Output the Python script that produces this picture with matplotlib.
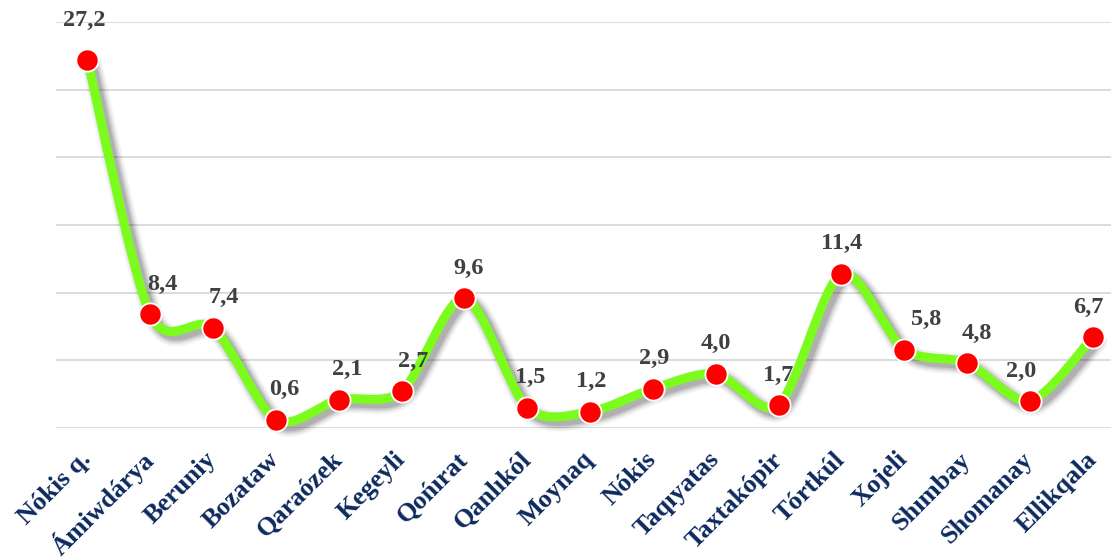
import numpy as np
import matplotlib
matplotlib.use('Agg')
import matplotlib.pyplot as plt
from matplotlib.path import Path
from matplotlib.patches import PathPatch
import matplotlib.patheffects as pe

# Data
districts = ['Nókis q.', 'Ámiwdárya', 'Beruniy', 'Bozataw', 'Qaraózek', 'Kegeyli',
             'Qońırat', 'Qanlıkól', 'Moynaq', 'Nókis', 'Taqıyatas', 'Taxtakópir',
             'Tórtkúl', 'Xojeli', 'Shımbay', 'Shomanay', 'Ellikqala']
values = [27.2, 8.4, 7.4, 0.6, 2.1, 2.7, 9.6, 1.5, 1.2, 2.9, 4.0, 1.7, 11.4, 5.8, 4.8, 2.0, 6.7]

x = np.arange(len(values))
y = np.array(values)

fig = plt.figure(figsize=(11.11, 5.6), dpi=100)
ax = fig.add_axes([56 / 1111, 132 / 560, 1 - 56 / 1111, 406 / 560])
ax.set_xlim(-0.5, 16.29)
ax.set_ylim(0, 30)

# grid
for g in range(0, 31, 5):
    ax.axhline(g, color='#d9d9d9', lw=1.3, zorder=0)

# smooth line (Excel-like bezier through the points)
verts = [(x[0], y[0])]
codes = [Path.MOVETO]
n = len(x)
for i in range(n - 1):
    p0 = np.array([x[max(i - 1, 0)], y[max(i - 1, 0)]])
    p1 = np.array([x[i], y[i]])
    p2 = np.array([x[i + 1], y[i + 1]])
    p3 = np.array([x[min(i + 2, n - 1)], y[min(i + 2, n - 1)]])
    c1 = p1 + (p2 - p0) / 7
    c2 = p2 - (p3 - p1) / 7
    verts += [tuple(c1), tuple(c2), tuple(p2)]
    codes += [Path.CURVE4] * 3

shadow = [pe.SimpleLineShadow(offset=(3, -3), shadow_color='black', alpha=a, linewidth=w)
          for a, w in [(0.05, 15), (0.07, 12), (0.1, 9.5), (0.12, 7)]]
curve = PathPatch(Path(verts, codes), fill=False, edgecolor='#7cfc1c', lw=6.5,
                  capstyle='round', joinstyle='round', zorder=2,
                  path_effects=shadow + [pe.Normal()])
curve.set_clip_on(False)
ax.add_patch(curve)

ax.plot(x, y, 'o', ms=16, mfc='#ff0000', mec='white', mew=1.3, zorder=3, clip_on=False)

# value labels
dx = [-2, 9, 8, 6, 6, 8, 3, 2, 1, 1, 0, 0, 0, 16, 7, -6, -3]
for xi, yi, d in zip(x, y, dx):
    ax.annotate(f'{yi:.1f}'.replace('.', ','), (xi, yi), xytext=(d, 14 if xi != 0 else 21),
                textcoords='offset points', ha='center', va='bottom',
                fontsize=17.5, fontweight='bold', family='Liberation Serif', color='#404040')

ax.set_xticks(x)
ax.set_xticklabels(districts, rotation=45, ha='right', va='center', rotation_mode='anchor',
                   fontsize=19, fontweight='bold', family='Liberation Serif', color='#0d2a5e')
ax.tick_params(axis='x', length=0, pad=20)
ax.set_yticks([])
for s in ax.spines.values():
    s.set_visible(False)

fig.savefig('out.png', dpi=100)
